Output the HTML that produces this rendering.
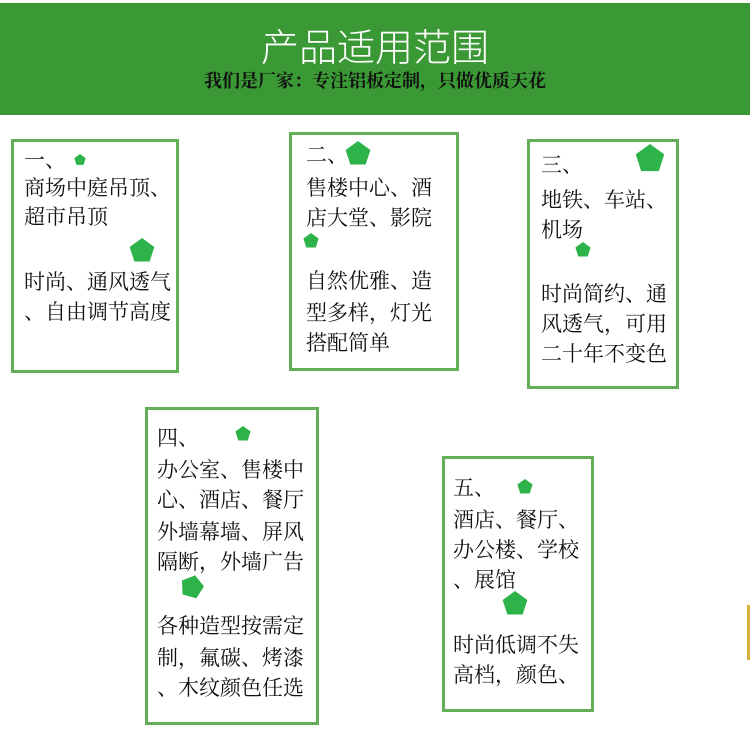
<!DOCTYPE html>
<html><head><meta charset="utf-8"><style>
body{margin:0;width:750px;height:750px;background:#fff;position:relative;overflow:hidden;font-family:"Liberation Serif","Noto Serif CJK SC",serif}
.hd{position:absolute;left:0;top:3px;width:750px;height:112px;background:#3a9934}
.t1{position:absolute;left:0;width:750px;text-align:center;top:14px;color:#fff;font-size:38px;font-family:"Liberation Sans","Noto Sans CJK SC",sans-serif;font-weight:300}
.t2{position:absolute;left:0;width:750px;text-align:center;top:64px;color:#111;font-size:18px;font-weight:bold}
.b{position:absolute;border:3px solid #63ad57;box-sizing:border-box}
.l{position:absolute;font-size:21px;line-height:24px;color:#111;white-space:nowrap}
svg{position:absolute;left:0;top:0}
</style></head><body>
<div class="hd"><div class="t1">产品适用范围</div><div class="t2">我们是厂家：专注铝板定制，只做优质天花</div></div>
<div class="b" style="left:11px;top:139px;width:168px;height:234px"></div>
<div class="b" style="left:289px;top:132px;width:170px;height:239px"></div>
<div class="b" style="left:527px;top:139px;width:152px;height:250px"></div>
<div class="b" style="left:145px;top:407px;width:174px;height:318px"></div>
<div class="b" style="left:442px;top:456px;width:152px;height:256px"></div>

<div class="l" style="left:24px;top:148px">一、</div>
<div class="l" style="left:24px;top:176px">商场中庭吊顶、</div>
<div class="l" style="left:24px;top:205px">超市吊顶</div>
<div class="l" style="left:24px;top:270px">时尚、通风透气</div>
<div class="l" style="left:24px;top:300px">、自由调节高度</div>

<div class="l" style="left:306px;top:143px">二、</div>
<div class="l" style="left:306px;top:176px">售楼中心、酒</div>
<div class="l" style="left:306px;top:206px">店大堂、影院</div>
<div class="l" style="left:306px;top:269px">自然优雅、造</div>
<div class="l" style="left:306px;top:301px">型多样，灯光</div>
<div class="l" style="left:306px;top:331px">搭配简单</div>

<div class="l" style="left:541px;top:153px">三、</div>
<div class="l" style="left:541px;top:188px">地铁、车站、</div>
<div class="l" style="left:541px;top:218px">机场</div>
<div class="l" style="left:541px;top:282px">时尚简约、通</div>
<div class="l" style="left:541px;top:312px">风透气，可用</div>
<div class="l" style="left:541px;top:342px">二十年不变色</div>

<div class="l" style="left:157px;top:426px">四、</div>
<div class="l" style="left:157px;top:458px">办公室、售楼中</div>
<div class="l" style="left:157px;top:488px">心、酒店、餐厅</div>
<div class="l" style="left:157px;top:520px">外墙幕墙、屏风</div>
<div class="l" style="left:157px;top:550px">隔断，外墙广告</div>
<div class="l" style="left:157px;top:614px">各种造型按需定</div>
<div class="l" style="left:157px;top:646px">制，氟碳、烤漆</div>
<div class="l" style="left:157px;top:676px">、木纹颜色任选</div>

<div class="l" style="left:453px;top:476px">五、</div>
<div class="l" style="left:453px;top:508px">酒店、餐厅、</div>
<div class="l" style="left:453px;top:538px">办公楼、学校</div>
<div class="l" style="left:453px;top:568px">、展馆</div>
<div class="l" style="left:453px;top:633px">时尚低调不失</div>
<div class="l" style="left:453px;top:663px">高档，颜色、</div>

<svg width="750" height="750" viewBox="0 0 750 750">
<defs><polygon id="p" points="0,-1 0.95,-0.31 0.59,0.81 -0.59,0.81 -0.95,-0.31"/></defs>
<g fill="#2db34a">
<use href="#p" transform="translate(80,160) scale(6)"/>
<use href="#p" transform="translate(142,251) scale(13)"/>
<use href="#p" transform="translate(358,154) scale(13)"/>
<use href="#p" transform="translate(311,241) scale(8)"/>
<use href="#p" transform="translate(650,159) scale(15)"/>
<use href="#p" transform="translate(583,250) scale(8)"/>
<use href="#p" transform="translate(243,434) scale(8)"/>
<use href="#p" transform="translate(192,587) scale(12) rotate(15)"/>
<use href="#p" transform="translate(525,487) scale(8)"/>
<use href="#p" transform="translate(515,604) scale(13)"/>
</g>
<rect x="747" y="605" width="3" height="55" fill="#d8b040"/>
</svg>
</body></html>
